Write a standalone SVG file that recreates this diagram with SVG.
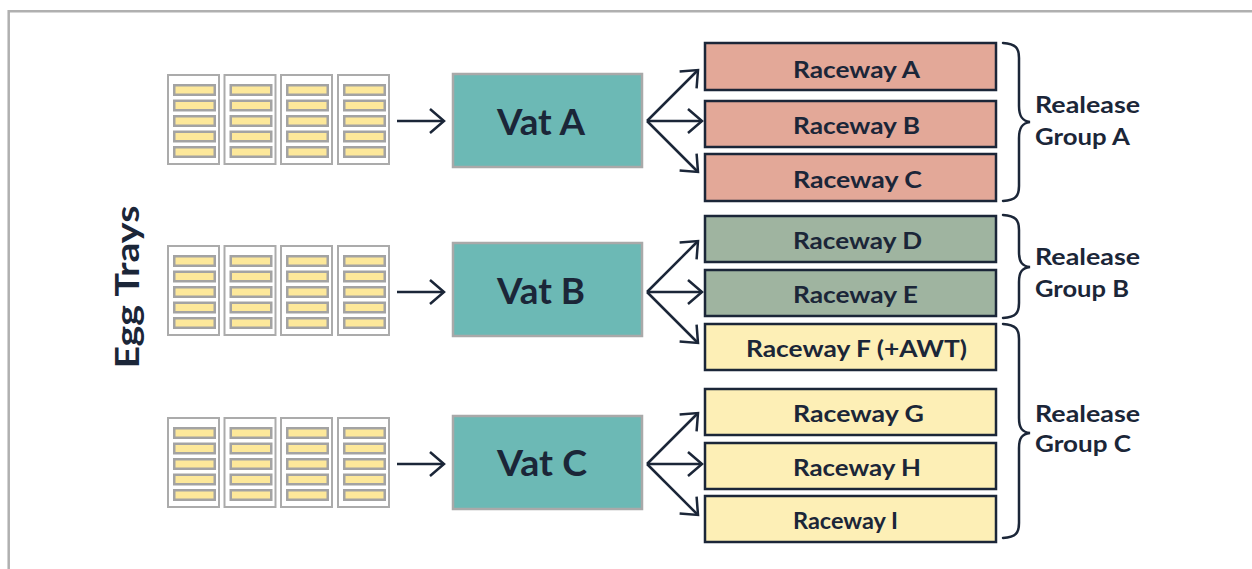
<svg xmlns="http://www.w3.org/2000/svg" xmlns:xlink="http://www.w3.org/1999/xlink" width="1252" height="569" viewBox="0 0 1252 569">
  <style>
    .frame { fill: none; stroke: #b0b0b0; stroke-width: 2.5; }
    .col { fill: #ffffff; stroke: #ababab; stroke-width: 2; }
    .slot { fill: #fde89a; stroke: #a3a3a3; stroke-width: 2.5; }
    .vat { fill: #6cb9b5; stroke: #a9a9a9; stroke-width: 2.5; }
    .rw { stroke: #1b2638; stroke-width: 2.5; }
    .rwA { fill: #e3a898; }
    .rwD { fill: #9fb4a0; }
    .rwF { fill: #fdefb6; }
    .t { font-family: Lato, "Liberation Sans", sans-serif; font-weight: bold; fill: #1b2638; }
    .rwt { font-size: 23.5px; text-anchor: middle; }
    .vatt { font-size: 37px; text-anchor: middle; }
    .grp { font-size: 22.5px; }
    .conn { fill: none; stroke: #1b2638; stroke-width: 2.5; }
    .brace { fill: none; stroke: #1b2638; stroke-width: 2.5; stroke-linecap: round; }
  </style>
  <defs>
    <marker id="ah" markerUnits="userSpaceOnUse" markerWidth="40" markerHeight="40" viewBox="-20 -20 40 40" refX="0" refY="0" orient="auto" overflow="visible">
      <path d="M-14,-12 L0,0 L-14,12" fill="none" stroke="#1b2638" stroke-width="2.5" stroke-linecap="butt" stroke-linejoin="miter"/>
    </marker>
    <g id="traycol">
      <rect class="col" x="1" y="1" width="51" height="89"/>
      <rect class="slot" x="7.25" y="11.25" width="40.5" height="9.5"/>
      <rect class="slot" x="7.25" y="26.75" width="40.5" height="9.5"/>
      <rect class="slot" x="7.25" y="42.25" width="40.5" height="9.5"/>
      <rect class="slot" x="7.25" y="57.75" width="40.5" height="9.5"/>
      <rect class="slot" x="7.25" y="73.25" width="40.5" height="9.5"/>
    </g>
    <g id="trays">
      <use xlink:href="#traycol" x="0" y="0"/>
      <use xlink:href="#traycol" x="56.5" y="0"/>
      <use xlink:href="#traycol" x="113" y="0"/>
      <use xlink:href="#traycol" x="170" y="0"/>
    </g>
  </defs>

  <rect width="1252" height="569" fill="#ffffff"/>
  <path class="frame" d="M8.7,569 L8.7,11.3 L1252,11.3"/>

  <g id="label-egg-trays">
    <text class="t" font-size="33" text-anchor="middle" textLength="163" lengthAdjust="spacingAndGlyphs" transform="translate(139,287) rotate(-90)">Egg Trays</text>
  </g>

  <g id="trays-a"><use xlink:href="#trays" x="167" y="74"/></g>
  <g id="trays-b"><use xlink:href="#trays" x="167" y="245"/></g>
  <g id="trays-c"><use xlink:href="#trays" x="167" y="417"/></g>

  <g id="vat-a">
    <rect class="vat" x="453" y="74" width="189" height="93"/>
    <text class="t vatt" x="541" y="135" textLength="88" lengthAdjust="spacingAndGlyphs">Vat A</text>
  </g>
  <g id="vat-b">
    <rect class="vat" x="453" y="243" width="189" height="93"/>
    <text class="t vatt" x="541" y="304" textLength="88" lengthAdjust="spacingAndGlyphs">Vat B</text>
  </g>
  <g id="vat-c">
    <rect class="vat" x="453" y="416" width="189" height="93"/>
    <text class="t vatt" x="542" y="476" textLength="90" lengthAdjust="spacingAndGlyphs">Vat C</text>
  </g>

  <g id="raceway-a">
    <rect class="rw rwA" x="705" y="43" width="291" height="47"/>
    <text class="t rwt" x="856.5" y="77.5" textLength="127" lengthAdjust="spacingAndGlyphs">Raceway A</text>
  </g>
  <g id="raceway-b">
    <rect class="rw rwA" x="705" y="101" width="291" height="46"/>
    <text class="t rwt" x="856.5" y="134" textLength="127" lengthAdjust="spacingAndGlyphs">Raceway B</text>
  </g>
  <g id="raceway-c">
    <rect class="rw rwA" x="705" y="154" width="291" height="47"/>
    <text class="t rwt" x="857.5" y="188" textLength="129" lengthAdjust="spacingAndGlyphs">Raceway C</text>
  </g>
  <g id="raceway-d">
    <rect class="rw rwD" x="705" y="216" width="291" height="46"/>
    <text class="t rwt" x="857.5" y="249" textLength="129" lengthAdjust="spacingAndGlyphs">Raceway D</text>
  </g>
  <g id="raceway-e">
    <rect class="rw rwD" x="705" y="270" width="291" height="46"/>
    <text class="t rwt" x="855.5" y="303" textLength="125" lengthAdjust="spacingAndGlyphs">Raceway E</text>
  </g>
  <g id="raceway-f">
    <rect class="rw rwF" x="705" y="324" width="291" height="46"/>
    <text class="t rwt" x="856.5" y="357" textLength="221" lengthAdjust="spacingAndGlyphs">Raceway F (+AWT)</text>
  </g>
  <g id="raceway-g">
    <rect class="rw rwF" x="705" y="389" width="291" height="46"/>
    <text class="t rwt" x="858.5" y="422" textLength="131" lengthAdjust="spacingAndGlyphs">Raceway G</text>
  </g>
  <g id="raceway-h">
    <rect class="rw rwF" x="705" y="443" width="291" height="46"/>
    <text class="t rwt" x="857" y="476" textLength="128" lengthAdjust="spacingAndGlyphs">Raceway H</text>
  </g>
  <g id="raceway-i">
    <rect class="rw rwF" x="705" y="496" width="291" height="46"/>
    <text class="t rwt" x="845.5" y="529" textLength="105" lengthAdjust="spacingAndGlyphs">Raceway I</text>
  </g>

  <g id="group-a">
    <path class="brace" d="M1003,43 C1016,44 1019,48 1019,58 L1019,106 C1019,116 1022,121 1030,122 C1022,123 1019,128 1019,138 L1019,186 C1019,196 1016,200 1003,201"/>
    <text class="t grp" x="1035" y="113" textLength="105" lengthAdjust="spacingAndGlyphs">Realease</text>
    <text class="t grp" x="1035" y="145" textLength="95" lengthAdjust="spacingAndGlyphs">Group A</text>
  </g>
  <g id="group-b">
    <path class="brace" d="M1003,215 C1016,216 1019,220 1019,230 L1019,252 C1019,262 1022,266 1030,267 C1022,268 1019,272 1019,282 L1019,303 C1019,313 1016,317 1003,318"/>
    <text class="t grp" x="1035" y="265" textLength="105" lengthAdjust="spacingAndGlyphs">Realease</text>
    <text class="t grp" x="1035" y="297" textLength="94" lengthAdjust="spacingAndGlyphs">Group B</text>
  </g>
  <g id="group-c">
    <path class="brace" d="M1003,324 C1016,325 1019,329 1019,339 L1019,418 C1019,428 1022,432 1030,433 C1022,434 1019,438 1019,448 L1019,523 C1019,533 1016,537 1003,538"/>
    <text class="t grp" x="1035" y="422" textLength="105" lengthAdjust="spacingAndGlyphs">Realease</text>
    <text class="t grp" x="1035" y="452" textLength="96" lengthAdjust="spacingAndGlyphs">Group C</text>
  </g>

  <g id="connectors">
    <line class="conn" x1="397" y1="121" x2="444" y2="121" marker-end="url(#ah)"/>
    <line class="conn" x1="397" y1="292" x2="444" y2="292" marker-end="url(#ah)"/>
    <line class="conn" x1="397" y1="464" x2="444" y2="464" marker-end="url(#ah)"/>

    <line class="conn" x1="647" y1="121" x2="698" y2="70" marker-end="url(#ah)"/>
    <line class="conn" x1="647" y1="121" x2="702" y2="121" marker-end="url(#ah)"/>
    <line class="conn" x1="647" y1="121" x2="698" y2="172" marker-end="url(#ah)"/>

    <line class="conn" x1="647" y1="292" x2="698" y2="241" marker-end="url(#ah)"/>
    <line class="conn" x1="647" y1="292" x2="702" y2="292" marker-end="url(#ah)"/>
    <line class="conn" x1="647" y1="292" x2="698" y2="343" marker-end="url(#ah)"/>

    <line class="conn" x1="647" y1="464" x2="698" y2="413" marker-end="url(#ah)"/>
    <line class="conn" x1="647" y1="464" x2="702" y2="464" marker-end="url(#ah)"/>
    <line class="conn" x1="647" y1="464" x2="698" y2="515" marker-end="url(#ah)"/>
  </g>
</svg>
